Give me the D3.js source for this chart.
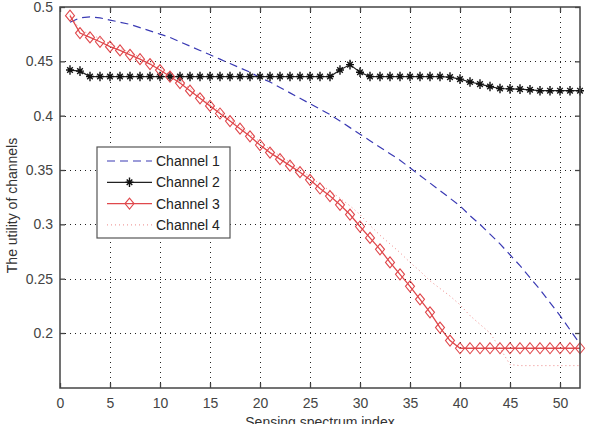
<!DOCTYPE html>
<html>
<head>
<meta charset="utf-8">
<script src="https://cdn.jsdelivr.net/npm/d3@7"></script>
<style>
  body { margin: 0; background: #fff; }
  svg { display: block; font-family: "Liberation Sans", Arial, sans-serif; }
</style>
</head>
<body>
<svg id="chart" width="590" height="424"></svg>
<script>
// x positions: sensing spectrum index 1..52
var indices = d3.range(1, 53);

var channel1 = [0.486, 0.490, 0.491, 0.490, 0.488, 0.486, 0.484, 0.481, 0.478, 0.475,
                0.472, 0.468, 0.464, 0.460, 0.456, 0.452, 0.448, 0.444, 0.440, 0.435,
                0.431, 0.426, 0.421, 0.416, 0.411, 0.406, 0.401, 0.395, 0.389, 0.383,
                0.377, 0.371, 0.365, 0.359, 0.352, 0.345, 0.338, 0.331, 0.324, 0.317,
                0.308, 0.300, 0.291, 0.282, 0.272, 0.262, 0.251, 0.240, 0.228, 0.216,
                0.203, 0.190];

var channel2 = [0.442, 0.441, 0.436, 0.436, 0.436, 0.436, 0.436, 0.436, 0.436, 0.436,
                0.436, 0.436, 0.436, 0.436, 0.436, 0.436, 0.436, 0.436, 0.436, 0.436,
                0.436, 0.436, 0.436, 0.436, 0.436, 0.436, 0.436, 0.442, 0.447, 0.440,
                0.436, 0.436, 0.436, 0.436, 0.436, 0.436, 0.436, 0.436, 0.4355, 0.4336,
                0.431, 0.429, 0.4268, 0.425, 0.4247, 0.4244, 0.4238, 0.423, 0.423, 0.423,
                0.423, 0.423];

var channel3 = [0.492, 0.476, 0.472, 0.468, 0.4635, 0.460, 0.456, 0.452, 0.4475, 0.442,
                0.436, 0.430, 0.423, 0.416, 0.409, 0.402, 0.395, 0.388, 0.381, 0.373,
                0.366, 0.360, 0.354, 0.348, 0.341, 0.333, 0.326, 0.318, 0.309, 0.298,
                0.2875, 0.277, 0.265, 0.254, 0.243, 0.231, 0.219, 0.205, 0.193, 0.186,
                0.186, 0.186, 0.186, 0.186, 0.186, 0.186, 0.186, 0.186, 0.186, 0.186,
                0.186, 0.186];

var channel4 = [0.493, 0.479, 0.475, 0.471, 0.466, 0.462, 0.458, 0.454, 0.449, 0.444,
                0.438, 0.432, 0.425, 0.418, 0.411, 0.404, 0.397, 0.390, 0.383, 0.376,
                0.369, 0.363, 0.357, 0.350, 0.344, 0.337, 0.331, 0.324, 0.317, 0.309,
                0.299, 0.290, 0.282, 0.274, 0.265, 0.257, 0.248, 0.241, 0.234, 0.226,
                0.216, 0.208, 0.200, 0.186, 0.171, 0.170, 0.170, 0.170, 0.170, 0.170,
                0.170, 0.170];

var seriesNames = ["Channel 1", "Channel 2", "Channel 3", "Channel 4"];
var xTicks = [0, 5, 10, 15, 20, 25, 30, 35, 40, 45, 50];
var yTicks = [0.2, 0.25, 0.3, 0.35, 0.4, 0.45, 0.5];

(function() {
    // plot box in pixels (note: "top" is reserved on window, so keep these local)
    var pL = 60, pR = 580, pT = 7, pB = 388;

    var svg = d3.select("#chart");

    var x = d3.scaleLinear().domain([0, 52]).range([pL, pR]);
    var y = d3.scaleLinear().domain([0.1494, 0.5]).range([pB, pT]);

    // dotted grid
    var grid = svg.append("g").attr("stroke", "#222").attr("stroke-width", 1)
        .attr("stroke-dasharray", "1,4");
    grid.selectAll("line.gx").data(xTicks.filter(function(d) { return d > 0; }))
        .enter().append("line")
        .attr("x1", function(d) { return Math.round(x(d)) + 0.5; })
        .attr("x2", function(d) { return Math.round(x(d)) + 0.5; })
        .attr("y1", pT).attr("y2", pB);
    grid.selectAll("line.gy").data(yTicks.filter(function(d) { return d < 0.5; }))
        .enter().append("line")
        .attr("y1", function(d) { return Math.round(y(d)) + 0.5; })
        .attr("y2", function(d) { return Math.round(y(d)) + 0.5; })
        .attr("x1", pL).attr("x2", pR);

    // series
    var seriesStyles = [
        { data: channel1, color: "#3a3ab4", width: 1.2, dash: "8,5" },
        { data: channel2, color: "#222", width: 1.2, dash: null },
        { data: channel3, color: "#e0484c", width: 1.3, dash: null },
        { data: channel4, color: "#e86a6a", width: 0.8, dash: "1,3" }
    ];

    var line = d3.line()
        .x(function(d, i) { return x(indices[i]); })
        .y(function(d) { return y(d); });

    var plot = svg.append("g");

    function starPath(s) {
        var a = s * 0.7;
        return "M0," + (-s * 1.2) + "V" + (s * 1.2) +
               "M" + (-s) + ",0H" + s +
               "M" + (-a) + "," + (-a) + "L" + a + "," + a +
               "M" + (-a) + "," + a + "L" + a + "," + (-a);
    }
    function diamondPath(w, h) {
        return "M0," + (-h) + "L" + w + ",0L0," + h + "L" + (-w) + ",0Z";
    }

    seriesStyles.forEach(function(s) {
        plot.append("path")
            .datum(s.data)
            .attr("fill", "none")
            .attr("stroke", s.color)
            .attr("stroke-width", s.width)
            .attr("stroke-dasharray", s.dash)
            .attr("d", line);
    });

    plot.selectAll("path.star").data(channel2).enter().append("path")
        .attr("class", "star")
        .attr("transform", function(d, i) { return "translate(" + x(indices[i]) + "," + y(d) + ")"; })
        .attr("d", starPath(4))
        .attr("stroke", "#111").attr("stroke-width", 1.4).attr("fill", "none");

    plot.selectAll("path.diamond").data(channel3).enter().append("path")
        .attr("class", "diamond")
        .attr("transform", function(d, i) { return "translate(" + x(indices[i]) + "," + y(d) + ")"; })
        .attr("d", diamondPath(4.5, 5.5))
        .attr("stroke", "#e0484c").attr("stroke-width", 1.1).attr("fill", "none");

    // axes box with inward ticks on all sides
    var axisColor = "#444";
    svg.append("rect")
        .attr("x", pL).attr("y", pT)
        .attr("width", pR - pL).attr("height", pB - pT)
        .attr("fill", "none").attr("stroke", axisColor).attr("stroke-width", 1.5);

    var xb = svg.append("g").attr("transform", "translate(0," + pB + ")")
        .call(d3.axisBottom(x).tickValues(xTicks).tickSizeInner(-5).tickSizeOuter(0).tickPadding(10));
    var xt = svg.append("g").attr("transform", "translate(0," + pT + ")")
        .call(d3.axisTop(x).tickValues(xTicks).tickSizeInner(-5).tickSizeOuter(0).tickFormat(""));
    var yl = svg.append("g").attr("transform", "translate(" + pL + ",0)")
        .call(d3.axisLeft(y).tickValues(yTicks).tickSizeInner(-5).tickSizeOuter(0).tickPadding(7)
            .tickFormat(function(d) { return String(+d.toFixed(2)); }));
    var yr = svg.append("g").attr("transform", "translate(" + pR + ",0)")
        .call(d3.axisRight(y).tickValues(yTicks).tickSizeInner(-5).tickSizeOuter(0).tickFormat(""));

    [xb, xt, yl, yr].forEach(function(g) {
        g.select(".domain").remove();
        g.selectAll(".tick line").attr("stroke", axisColor).attr("stroke-width", 1.3);
        g.selectAll(".tick text").attr("fill", "#444").attr("font-size", 14)
            .attr("font-family", "Liberation Sans, Arial, sans-serif");
    });

    // axis titles
    svg.append("text")
        .attr("x", (pL + pR) / 2).attr("y", 427)
        .attr("text-anchor", "middle").attr("font-size", 14).attr("fill", "#333")
        .text("Sensing spectrum index");
    svg.append("text")
        .attr("transform", "translate(17," + ((pT + pB) / 2 + 8) + ")rotate(-90)")
        .attr("text-anchor", "middle").attr("font-size", 14).attr("fill", "#333")
        .text("The utility of channels");

    // legend
    var legend = svg.append("g").attr("transform", "translate(97,147)");
    legend.append("rect")
        .attr("width", 133).attr("height", 91)
        .attr("fill", "#fff").attr("stroke", "#555").attr("stroke-width", 1.2);

    var entries = legend.selectAll("g.entry").data(seriesNames).enter().append("g")
        .attr("class", "entry")
        .attr("transform", function(d, i) { return "translate(0," + (14 + i * 21.3) + ")"; });

    entries.append("line")
        .attr("x1", 10).attr("x2", 55).attr("y1", 0).attr("y2", 0)
        .attr("stroke", function(d, i) { return seriesStyles[i].color; })
        .attr("stroke-width", function(d, i) { return seriesStyles[i].width; })
        .attr("stroke-dasharray", function(d, i) { return seriesStyles[i].dash; });

    entries.filter(function(d, i) { return i === 1; }).append("path")
        .attr("transform", "translate(32.5,0)")
        .attr("d", starPath(4))
        .attr("stroke", "#111").attr("stroke-width", 1.4).attr("fill", "none");
    entries.filter(function(d, i) { return i === 2; }).append("path")
        .attr("transform", "translate(32.5,0)")
        .attr("d", diamondPath(4.5, 5.5))
        .attr("stroke", "#e0484c").attr("stroke-width", 1.1).attr("fill", "none");

    entries.append("text")
        .attr("x", 59).attr("y", 5)
        .attr("font-size", 14).attr("fill", "#222")
        .text(function(d) { return d; });
})();
</script>
</body>
</html>
